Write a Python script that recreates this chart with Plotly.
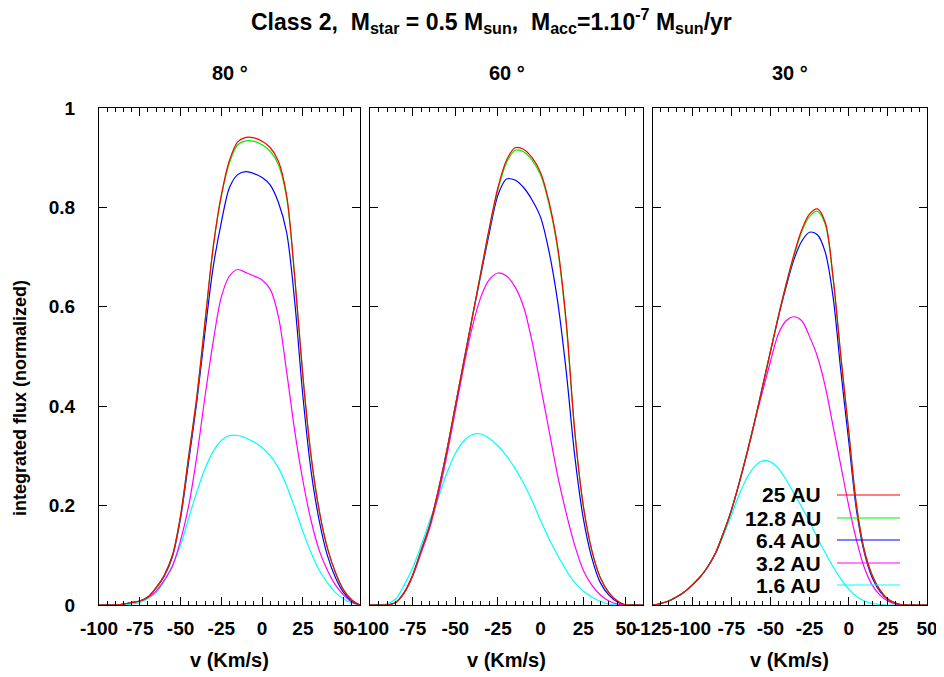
import plotly.graph_objects as go

# ---------------- data ----------------
v_p1 = [-100, -95, -90, -85, -80, -75, -70, -65, -60, -55, -50, -45, -40, -35, -30, -25, -20,
        -15, -10, -5, 0, 5, 10, 15, 20, 25, 30, 35, 40, 45, 50, 55, 60]
v_p2 = v_p1
v_p3 = [-125, -120, -115, -110, -105, -100, -95, -90, -85, -80, -75, -70, -65, -60, -55, -50,
        -45, -40, -35, -30, -25, -20, -15, -10, -5, 0, 5, 10, 15, 20, 25, 30, 35, 40, 45, 50]

# panel 80 deg
p80_25au = [0, 0, 0, 0.002, 0.005, 0.008, 0.016, 0.035, 0.06, 0.10, 0.18, 0.30, 0.42, 0.57, 0.72,
            0.825, 0.895, 0.932, 0.941, 0.940, 0.933, 0.92, 0.893, 0.825, 0.66, 0.46, 0.30, 0.19,
            0.115, 0.065, 0.03, 0.01, 0]
p80_12au = [0, 0, 0, 0.002, 0.005, 0.008, 0.016, 0.035, 0.06, 0.10, 0.18, 0.30, 0.42, 0.57, 0.72,
            0.822, 0.89, 0.926, 0.934, 0.933, 0.926, 0.913, 0.886, 0.82, 0.658, 0.46, 0.30, 0.19,
            0.115, 0.065, 0.03, 0.01, 0]
p80_6au = [0, 0, 0, 0.002, 0.005, 0.008, 0.016, 0.034, 0.058, 0.097, 0.175, 0.29, 0.41, 0.55, 0.68,
           0.77, 0.84, 0.866, 0.872, 0.868, 0.86, 0.845, 0.81, 0.75, 0.61, 0.42, 0.27, 0.17,
           0.10, 0.055, 0.025, 0.008, 0]
p80_3au = [0, 0, 0, 0.002, 0.005, 0.008, 0.015, 0.028, 0.05, 0.078, 0.13, 0.20, 0.30, 0.42, 0.53,
           0.62, 0.662, 0.675, 0.669, 0.662, 0.654, 0.635, 0.58, 0.47, 0.35, 0.25, 0.17, 0.11,
           0.07, 0.04, 0.02, 0.006, 0]
p80_1au = [0, 0, 0, 0, 0.002, 0.005, 0.013, 0.025, 0.048, 0.08, 0.12, 0.175, 0.228, 0.274,
           0.309, 0.331, 0.341, 0.341, 0.336, 0.328, 0.317, 0.30, 0.276, 0.24, 0.195, 0.148,
           0.105, 0.07, 0.045, 0.025, 0.012, 0.004, 0]

# panel 60 deg
p60_25au = [0, 0, 0, 0.005, 0.025, 0.06, 0.11, 0.16, 0.23, 0.31, 0.40, 0.49, 0.58, 0.67, 0.76,
            0.84, 0.895, 0.92, 0.917, 0.90, 0.87, 0.81, 0.72, 0.57, 0.35, 0.20, 0.11, 0.055,
            0.025, 0.008, 0, 0, 0]
p60_12au = [0, 0, 0, 0.005, 0.025, 0.06, 0.11, 0.16, 0.23, 0.31, 0.40, 0.49, 0.58, 0.67, 0.758,
            0.836, 0.89, 0.915, 0.912, 0.895, 0.865, 0.805, 0.715, 0.565, 0.348, 0.20, 0.11, 0.055,
            0.025, 0.008, 0, 0, 0]
p60_6au = [0, 0, 0, 0.005, 0.025, 0.06, 0.11, 0.16, 0.23, 0.31, 0.40, 0.49, 0.58, 0.665, 0.75,
           0.825, 0.857, 0.855, 0.84, 0.815, 0.78, 0.71, 0.61, 0.47, 0.30, 0.175, 0.095, 0.045,
           0.02, 0.006, 0, 0, 0]
p60_3au = [0, 0, 0, 0.005, 0.024, 0.058, 0.105, 0.155, 0.22, 0.30, 0.39, 0.48, 0.56, 0.62, 0.655,
           0.668, 0.662, 0.64, 0.60, 0.53, 0.44, 0.35, 0.26, 0.185, 0.12, 0.07, 0.04, 0.02,
           0.008, 0.002, 0, 0, 0]
p60_1au = [0, 0, 0.002, 0.012, 0.04, 0.075, 0.12, 0.17, 0.215, 0.265, 0.305, 0.33, 0.343, 0.344,
           0.335, 0.32, 0.30, 0.275, 0.245, 0.21, 0.17, 0.133, 0.10, 0.07, 0.045, 0.028, 0.016,
           0.007, 0.002, 0, 0, 0, 0]

# panel 30 deg
p30_25au = [0, 0.003, 0.008, 0.016, 0.026, 0.04, 0.056, 0.077, 0.105, 0.145, 0.19, 0.245, 0.305,
            0.37, 0.44, 0.51, 0.58, 0.645, 0.705, 0.755, 0.787, 0.797, 0.77, 0.66, 0.50, 0.35,
            0.20, 0.11, 0.06, 0.03, 0.012, 0.004, 0, 0, 0, 0]
p30_12au = [0, 0.003, 0.008, 0.016, 0.026, 0.04, 0.056, 0.077, 0.105, 0.145, 0.19, 0.245, 0.305,
            0.37, 0.44, 0.51, 0.58, 0.645, 0.702, 0.751, 0.782, 0.792, 0.766, 0.657, 0.498, 0.35,
            0.20, 0.11, 0.06, 0.03, 0.012, 0.004, 0, 0, 0, 0]
p30_6au = [0, 0.003, 0.008, 0.016, 0.026, 0.04, 0.056, 0.077, 0.105, 0.145, 0.19, 0.245, 0.305,
           0.37, 0.44, 0.51, 0.578, 0.64, 0.695, 0.732, 0.75, 0.745, 0.71, 0.62, 0.47, 0.33, 0.19,
           0.105, 0.055, 0.027, 0.011, 0.003, 0, 0, 0, 0]
p30_3au = [0, 0.003, 0.008, 0.016, 0.026, 0.04, 0.056, 0.077, 0.105, 0.145, 0.19, 0.245, 0.305,
           0.37, 0.43, 0.49, 0.545, 0.572, 0.58, 0.572, 0.54, 0.50, 0.44, 0.36, 0.28, 0.20, 0.13,
           0.075, 0.04, 0.02, 0.008, 0.002, 0, 0, 0, 0]
p30_1au = [0, 0.003, 0.008, 0.016, 0.026, 0.04, 0.056, 0.077, 0.103, 0.14, 0.18, 0.222, 0.256,
           0.279, 0.29, 0.288, 0.275, 0.252, 0.225, 0.197, 0.168, 0.135, 0.105, 0.077, 0.052,
           0.032, 0.017, 0.008, 0.003, 0.001, 0, 0, 0, 0, 0, 0]

series_names = ["25 AU", "12.8 AU", "6.4 AU", "3.2 AU", "1.6 AU"]
series_colors = ["#ff0000", "#00ee00", "#0000ff", "#ff00ff", "#00ffff"]
panel_titles = ["80 °", "60 °", "30 °"]
x_ranges = [[-100, 60], [-100, 60], [-125, 50]]
x_tick0 = [-100, -100, -125]
x_tickvals = [[-100, -75, -50, -25, 0, 25, 50],
              [-100, -75, -50, -25, 0, 25, 50],
              [-125, -100, -75, -50, -25, 0, 25, 50]]
x_ticktext = [["-100", "-75", "-50", "-25", "0", "25", "50"],
              ["-100", "-75", "-50", "-25", "0", "25", "50"],
              ["-125", "-100", "-75", "-50", "-25", "0", "25", "50"]]
y_ticks = [0, 0.2, 0.4, 0.6, 0.8, 1]
y_ticktext = ["0", "0.2", "0.4", "0.6", "0.8", "1"]

panels = [
    (v_p1, [p80_25au, p80_12au, p80_6au, p80_3au, p80_1au]),
    (v_p2, [p60_25au, p60_12au, p60_6au, p60_3au, p60_1au]),
    (v_p3, [p30_25au, p30_12au, p30_6au, p30_3au, p30_1au]),
]

# ---------------- layout helpers ----------------
# The page body has an 8px margin, so the figure is made 8px smaller and
# every position below is given in window pixels and shifted by that offset.
OFF = 8
W, H = 944 - OFF, 677 - OFF
FONT = "Liberation Sans, Arial, Helvetica, sans-serif"


def px(xp):
    return (xp - OFF) / W


def py(yp):
    return 1 - (yp - OFF) / H


x_domains = [[px(99), px(360)], [px(370), px(643)], [px(653), px(927)]]
y_domain = [py(605), py(108)]

fig = go.Figure()

for i, (vx, curves) in enumerate(panels):
    xa = "x" if i == 0 else f"x{i + 1}"
    ya = "y" if i == 0 else f"y{i + 1}"
    # draw in reverse so red ends up on top
    for name, col, yy in reversed(list(zip(series_names, series_colors, curves))):
        fig.add_trace(go.Scatter(
            x=vx, y=yy, mode="lines", name=name, xaxis=xa, yaxis=ya,
            line=dict(color=col, width=1.2, shape="spline", smoothing=0.9),
            showlegend=False, hoverinfo="skip"))

tickfont = dict(family=FONT, size=19, color="black", weight="bold")
axis_common = dict(showline=True, linecolor="black", linewidth=1, mirror="allticks",
                   ticks="inside", ticklen=8, tickcolor="black", showgrid=False,
                   zeroline=False, tickfont=tickfont, automargin=False, tickangle=0)

layout = dict(width=W, height=H, margin=dict(l=0, r=0, t=0, b=0, pad=0, autoexpand=False),
              paper_bgcolor="white", plot_bgcolor="white", showlegend=False)

for i in range(3):
    k = "" if i == 0 else str(i + 1)
    layout[f"xaxis{k}"] = dict(
        domain=x_domains[i], range=x_ranges[i], anchor=f"y{k}",
        tickmode="array", tickvals=x_tickvals[i], ticktext=x_ticktext[i],
        ticklabelstandoff=6,
        minor=dict(tickmode="linear", ticks="inside", ticklen=4, tick0=x_tick0[i], dtick=5,
                   tickcolor="black", showgrid=False),
        **axis_common)
    layout[f"yaxis{k}"] = dict(
        domain=y_domain, range=[0, 1], anchor=f"x{k}", tickmode="array",
        tickvals=y_ticks, ticktext=y_ticktext,
        showticklabels=(i == 0), ticklabelstandoff=19,
        **axis_common)

fig.update_layout(**layout)

# ---------------- text ----------------
bold = dict(family=FONT, color="black", weight="bold")
NB = "\u00a0"
title = ("Class 2," + NB + NB + "M<sub>star</sub> = 0.5 M<sub>sun</sub>," + NB + NB +
         "M<sub>acc</sub>=1.10<sup>-7</sup> M<sub>sun</sub>/yr")
fig.add_annotation(text=title, x=px(491), y=py(21), xref="paper", yref="paper",
                   showarrow=False, font=dict(size=23, **bold), xanchor="center",
                   yanchor="middle")

for i, t in enumerate(panel_titles):
    cx = (x_domains[i][0] + x_domains[i][1]) / 2
    fig.add_annotation(text=t, x=cx, y=py(73), xref="paper", yref="paper", showarrow=False,
                       font=dict(size=20, **bold), xanchor="center", yanchor="middle")
    fig.add_annotation(text="v (Km/s)", x=cx, y=py(660), xref="paper", yref="paper",
                       showarrow=False, font=dict(size=20, **bold), xanchor="center",
                       yanchor="middle")

fig.add_annotation(text="integrated flux (normalized)", x=px(20), y=py(398), xref="paper",
                   yref="paper", showarrow=False, textangle=-90,
                   font=dict(size=18, **bold), xanchor="center", yanchor="middle")

# legend (text on the left, sample line on the right)
legend_rows = [495, 518, 540, 563, 585]
for name, col, yr in zip(series_names, series_colors, legend_rows):
    fig.add_annotation(text=name, x=px(823), y=py(yr), xref="paper", yref="paper",
                       showarrow=False, font=dict(size=21, **bold), xanchor="right",
                       yanchor="middle")
    fig.add_shape(type="line", xref="paper", yref="paper", x0=px(837), x1=px(900),
                  y0=py(yr), y1=py(yr), line=dict(color=col, width=1.2))

fig.write_html("out.html")
